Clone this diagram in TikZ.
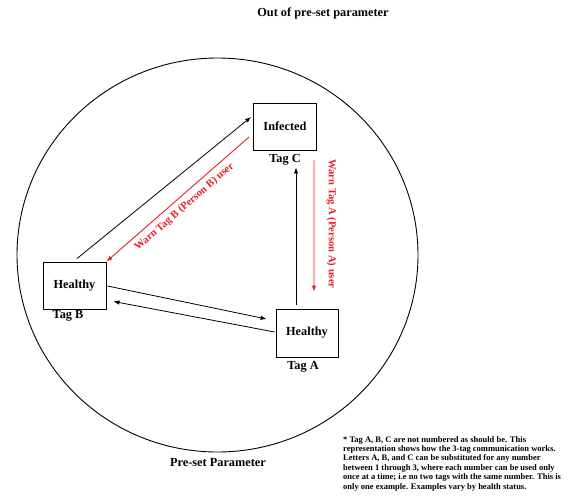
\documentclass[tikz,border=0pt]{standalone}
\usepackage{fontspec}
\setmainfont{Liberation Serif}
\usetikzlibrary{arrows.meta}
\definecolor{warnred}{RGB}{236,28,36}
\begin{document}
\begin{tikzpicture}[x=1pt,y=-1pt,
  font=\bfseries\fontsize{12.3}{14}\selectfont,
  tagbox/.style={draw=black,line width=0.9pt,minimum width=63pt,minimum height=47pt,inner sep=0pt},
  taglabel/.style={inner sep=0pt},
  link/.style={draw=black,line width=0.8pt,-{Latex[length=6pt,width=4.5pt]}},
  warn/.style={draw=warnred,line width=0.9pt,-{Latex[length=6pt,width=4.5pt]}},
  warnlabel/.style={text=warnred,inner sep=0pt,font=\bfseries\fontsize{10.6}{12}\selectfont}]
  \useasboundingbox (0,0) rectangle (568,496);

  % boundary of the pre-set parameter
  \draw[line width=0.9pt] (217.5,255) ellipse [x radius=200.5, y radius=197];
  \node[inner sep=0pt] (outtitle) at (323,13) {Out of pre-set parameter};
  \node[inner sep=0pt] (intitle) at (218,463) {Pre-set Parameter};

  % the three tags
  \node[tagbox] (c) at (285,126.5) {Infected};
  \node[tagbox] (b) at (74.5,285.5) {Healthy};
  \node[tagbox,minimum width=62pt,minimum height=48pt] (a) at (307,333) {Healthy};
  \node[taglabel] (tc) at (285,160) {Tag C};
  \node[taglabel] (tb) at (68,316) {Tag B};
  \node[taglabel] (ta) at (303,367) {Tag A};

  % communication between tags
  \draw[link] ([shift={(2.5,-3)}]b.north) -- ([shift={(-2,-9.5)}]c.west);
  \draw[link] ([shift={(-11,-4)}]a.north) -- ([shift={(11,17)}]c.south);
  \draw[link] ([shift={(1,0.5)}]b.east) -- ([shift={(-9,-14)}]a.west);
  \draw[link] ([shift={(-1,-1)}]a.west) -- ([shift={(7,-8)}]b.south east);

  % warnings sent by the infected tag
  \draw[warn] ([shift={(-4,10.5)}]c.west) -- (b.north east);
  \draw[warn] ([shift={(-3,10)}]c.south east) -- ([shift={(7,-17)}]a.north);
  \node[warnlabel,rotate=41] (wb) at (184.5,207) {Warn Tag B (Person B) user};
  \node[warnlabel,rotate=-90] (wa) at (331.5,224) {Warn Tag A (Person A) user};

  % footnote
  \node[anchor=north west,inner sep=0pt,align=left,
        font=\bfseries\fontsize{8.5}{9.4}\selectfont] (note) at (343,436)
    {* Tag A, B, C are not numbered as should be. This\\
     representation shows how the 3-tag communication works.\\
     Letters A, B, and C can be substituted for any number\\
     between 1 through 3, where each number can be used only\\
     once at a time; i.e no two tags with the same number. This is\\
     only one example. Examples vary by health status.};
\end{tikzpicture}
\end{document}
